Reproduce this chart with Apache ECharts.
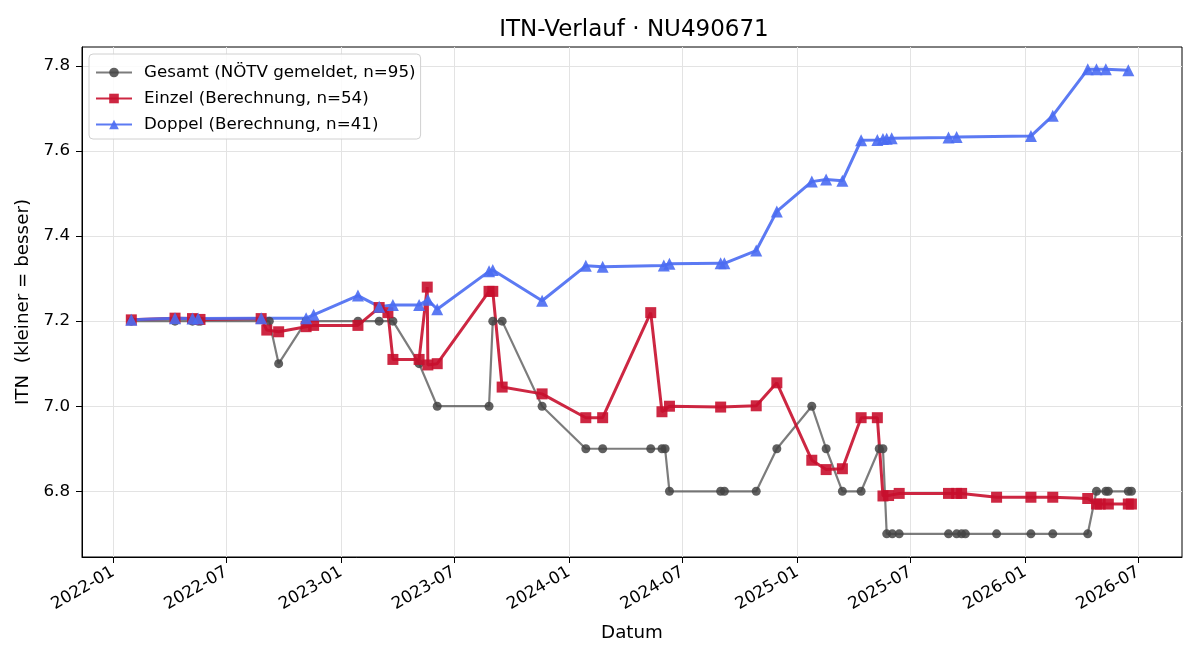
<!DOCTYPE html>
<html>
<head>
<meta charset="utf-8">
<title>ITN-Verlauf</title>
<script src="https://cdn.jsdelivr.net/npm/echarts@6/dist/echarts.min.js"></script>
<style>
  html, body { margin: 0; padding: 0; background: #fff; }
  #chart { width: 1200px; height: 660px; }
</style>
</head>
<body>
<div id="chart"></div>
<script>
// Gesamt (NÖTV gemeldet)
const gesamtDates = ['2022-01-30', '2022-04-10', '2022-05-08', '2022-05-17', '2022-05-21', '2022-09-08',
  '2022-09-23', '2022-11-06', '2023-01-28', '2023-03-03', '2023-03-25', '2023-05-06', '2023-06-04',
  '2023-08-26', '2023-09-01', '2023-09-16', '2023-11-19', '2024-01-28', '2024-02-24', '2024-05-11',
  '2024-05-29', '2024-06-03', '2024-06-10', '2024-08-31', '2024-09-06', '2024-10-27', '2024-11-29',
  '2025-01-24', '2025-02-16', '2025-03-14', '2025-04-13', '2025-05-12', '2025-05-18', '2025-05-24',
  '2025-06-02', '2025-06-13', '2025-08-31', '2025-09-13', '2025-09-21', '2025-09-27', '2025-11-16',
  '2026-01-10', '2026-02-14', '2026-04-11', '2026-04-25', '2026-05-10', '2026-05-14', '2026-06-15',
  '2026-06-20']
const gesamtValues = [7.2, 7.2, 7.2, 7.2, 7.2, 7.2,
  7.1, 7.2, 7.2, 7.2, 7.2, 7.1, 7.0,
  7.0, 7.2, 7.2, 7.0, 6.9, 6.9, 6.9,
  6.9, 6.9, 6.8, 6.8, 6.8, 6.8, 6.9,
  7.0, 6.9, 6.8, 6.8, 6.9, 6.9, 6.7,
  6.7, 6.7, 6.7, 6.7, 6.7, 6.7, 6.7,
  6.7, 6.7, 6.7, 6.8, 6.8, 6.8, 6.8,
  6.8]

// Einzel (Berechnung)
const einzelDates = ['2022-01-30', '2022-04-10', '2022-05-08', '2022-05-20', '2022-08-26', '2022-09-04',
  '2022-09-23', '2022-11-06', '2022-11-18', '2023-01-28', '2023-03-03', '2023-03-17', '2023-03-25',
  '2023-05-06', '2023-05-19', '2023-05-20', '2023-06-04', '2023-08-26', '2023-09-01', '2023-09-16',
  '2023-11-19', '2024-01-28', '2024-02-24', '2024-05-11', '2024-05-29', '2024-06-10', '2024-08-31',
  '2024-10-27', '2024-11-29', '2025-01-24', '2025-02-16', '2025-03-14', '2025-04-13', '2025-05-09',
  '2025-05-18', '2025-05-27', '2025-06-13', '2025-08-31', '2025-09-13', '2025-09-21', '2025-11-16',
  '2026-01-10', '2026-02-14', '2026-04-11', '2026-04-25', '2026-05-01', '2026-05-14', '2026-06-15',
  '2026-06-20']
const einzelValues = [7.203, 7.207, 7.206, 7.204, 7.206, 7.179,
  7.175, 7.187, 7.19, 7.19, 7.232, 7.22, 7.11,
  7.11, 7.28, 7.097, 7.1, 7.27, 7.27, 7.045,
  7.029, 6.973, 6.973, 7.22, 6.987, 7.0, 6.998,
  7.001, 7.055, 6.873, 6.851, 6.853, 6.973, 6.973,
  6.789, 6.79, 6.795, 6.795, 6.795, 6.795, 6.786,
  6.786, 6.786, 6.783, 6.77, 6.77, 6.77, 6.77,
  6.77]

// Doppel (Berechnung)
const doppelDates = ['2022-01-30', '2022-04-10', '2022-05-08', '2022-05-17', '2022-08-26', '2022-11-06',
  '2022-11-18', '2023-01-28', '2023-03-03', '2023-03-25', '2023-05-06', '2023-05-20', '2023-06-04',
  '2023-08-26', '2023-09-01', '2023-11-19', '2024-01-28', '2024-02-24', '2024-06-01', '2024-06-10',
  '2024-08-31', '2024-09-06', '2024-10-27', '2024-11-29', '2025-01-24', '2025-02-16', '2025-03-14',
  '2025-04-13', '2025-05-09', '2025-05-18', '2025-05-24', '2025-06-01', '2025-08-31', '2025-09-13',
  '2026-01-10', '2026-02-14', '2026-04-11', '2026-04-25', '2026-05-10', '2026-06-15']
const doppelValues = [7.203, 7.207, 7.206, 7.206, 7.207, 7.207,
  7.215, 7.26, 7.234, 7.238, 7.238, 7.25, 7.228,
  7.317, 7.32, 7.248, 7.33, 7.328, 7.331, 7.335,
  7.336, 7.336, 7.366, 7.458, 7.528, 7.533, 7.53,
  7.625, 7.626, 7.628, 7.629, 7.63, 7.632, 7.633,
  7.635, 7.683, 7.792, 7.792, 7.792, 7.79]

const xTickLabels = ['2022-01', '2022-07', '2023-01', '2023-07', '2024-01', '2024-07',
  '2025-01', '2025-07', '2026-01', '2026-07']
const yTickValues = [6.8, 7.0, 7.2, 7.4, 7.6, 7.8]

const font = 'DejaVu Sans'
const toTime = (s) => new Date(s + 'T00:00:00Z').getTime()
const xTicks = xTickLabels.map(m => toTime(m + '-01'))
const pairs = (dates, values) => dates.map((d, i) => [toTime(d), values[i]])

const chart = echarts.init(document.getElementById('chart'))

const option = {
  animation: false,
  backgroundColor: '#fff',
  textStyle: { fontFamily: font },
  title: {
    text: 'ITN-Verlauf · NU490671',
    left: 629,
    top: 14,
    textAlign: 'center',
    textStyle: { fontFamily: font, fontSize: 23, fontWeight: 'normal', color: '#000' }
  },
  legend: {
    orient: 'vertical',
    left: 89,
    top: 54,
    padding: [10, 5, 6, 6],
    itemGap: 9,
    itemWidth: 36,
    itemHeight: 12,
    backgroundColor: 'rgba(255,255,255,0.85)',
    borderColor: '#d0d0d0',
    borderWidth: 1,
    borderRadius: 4,
    textStyle: { fontFamily: font, fontSize: 16.7, lineHeight: 17, color: '#000', padding: [0, 0, 0, 7] },
    data: ['Gesamt (NÖTV gemeldet, n=95)', 'Einzel (Berechnung, n=54)', 'Doppel (Berechnung, n=41)']
  },
  grid: {
    left: 82,
    right: 18,
    top: 47,
    bottom: 103,
    show: true,
    borderColor: '#000',
    borderWidth: 1
  },
  xAxis: {
    type: 'value',
    min: toTime('2021-11-12'),
    max: toTime('2026-09-09'),
    name: 'Datum',
    nameLocation: 'middle',
    nameGap: 67,
    nameTextStyle: { fontFamily: font, fontSize: 18.3, color: '#000' },
    axisLine: { show: true, lineStyle: { color: '#000', width: 1 } },
    axisTick: { show: true, customValues: xTicks, length: 6, lineStyle: { color: '#000' } },
    axisLabel: {
      customValues: xTicks,
      rotate: 30,
      margin: 14,
      fontFamily: font,
      fontSize: 16.7,
      color: '#000',
      formatter: (v) => {
        const d = new Date(v)
        return d.getUTCFullYear() + '-' + String(d.getUTCMonth() + 1).padStart(2, '0')
      }
    },
    splitLine: { show: true, lineStyle: { color: '#e3e3e3', width: 1 } }
  },
  yAxis: {
    type: 'value',
    min: 6.6455,
    max: 7.8445,
    name: 'ITN  (kleiner = besser)',
    nameLocation: 'middle',
    nameGap: 44,
    nameTextStyle: { fontFamily: font, fontSize: 18.3, color: '#000' },
    axisLine: { show: true, lineStyle: { color: '#000', width: 1 } },
    axisTick: { show: true, customValues: yTickValues, length: 6, lineStyle: { color: '#000' } },
    axisLabel: {
      customValues: yTickValues,
      margin: 12,
      fontFamily: font,
      fontSize: 16.7,
      color: '#000',
      formatter: (v) => v.toFixed(1)
    },
    splitLine: { show: true, lineStyle: { color: '#e3e3e3', width: 1 } }
  },
  series: [
    {
      name: 'Gesamt (NÖTV gemeldet, n=95)',
      type: 'line',
      data: pairs(gesamtDates, gesamtValues),
      symbol: 'circle',
      symbolSize: 9,
      showAllSymbol: true,
      lineStyle: { color: '#444', width: 2.2, opacity: 0.7 },
      itemStyle: { color: '#444', opacity: 0.85 }
    },
    {
      name: 'Einzel (Berechnung, n=54)',
      type: 'line',
      data: pairs(einzelDates, einzelValues),
      symbol: 'rect',
      symbolSize: 11,
      showAllSymbol: true,
      lineStyle: { color: '#c8102e', width: 3, opacity: 0.9 },
      itemStyle: { color: '#c8102e', opacity: 0.9 }
    },
    {
      name: 'Doppel (Berechnung, n=41)',
      type: 'line',
      data: pairs(doppelDates, doppelValues),
      symbol: 'triangle',
      symbolSize: 12,
      showAllSymbol: true,
      lineStyle: { color: '#4a6cf2', width: 3, opacity: 0.9 },
      itemStyle: { color: '#4a6cf2', opacity: 0.9 }
    }
  ]
}

chart.setOption(option)
</script>
</body>
</html>
